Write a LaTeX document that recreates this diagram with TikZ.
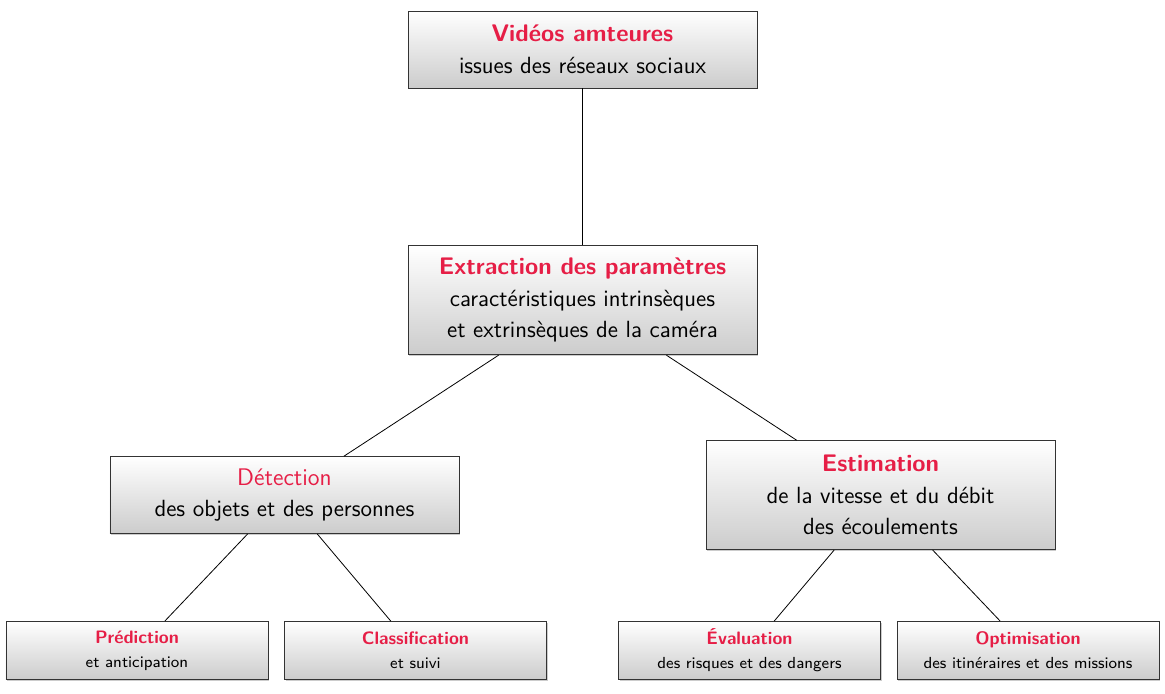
\documentclass[tikz,border=0pt]{standalone}
\usepackage{xcolor}
\usepackage{tikz}
\usetikzlibrary{positioning,shadows}

\definecolor{titlered}{RGB}{230,30,70}

\begin{document}
\begin{tikzpicture}[
        bigbox/.style={draw=black!80, rectangle, align=center, top color=white, bottom color=gray!40,
            drop shadow={shadow xshift=0.6pt, shadow yshift=-0.6pt, opacity=0.4},
            minimum width=174.5pt, inner sep=3pt, font=\sffamily\fontsize{11.7}{15.75}\selectfont},
        smallbox/.style={draw=black!80, rectangle, align=center, top color=white, bottom color=gray!40,
            drop shadow={shadow xshift=0.6pt, shadow yshift=-0.6pt, opacity=0.4},
            minimum width=131pt, minimum height=29pt, inner sep=2pt, font=\sffamily\fontsize{8}{12}\selectfont}]

        \useasboundingbox (-291.25pt,-321.75pt) rectangle (291.25pt,24.75pt);

        % Source
        \node[bigbox, minimum height=38.5pt] (videos) {{\large\bfseries\color{titlered}Vidéos amteures}\\issues des réseaux sociaux};

        % Extraction
        \node[bigbox, minimum height=54.5pt, below=78.5pt of videos] (extraction) {{\large\bfseries\color{titlered}Extraction des paramètres}\\caractéristiques intrinsèques\\et extrinsèques de la caméra};

        % Second level
        \node[bigbox, minimum height=38.5pt, below=50.5pt of extraction, xshift=-149pt] (detection) {{\large\color{titlered}Détection}\\des objets et des personnes};
        \node[bigbox, minimum height=54.5pt, below=42.5pt of extraction, xshift=149pt] (estimation) {{\large\bfseries\color{titlered}Estimation}\\de la vitesse et du débit\\des écoulements};

        % Leaves
        \node[smallbox, below=43.5pt of detection, xshift=-73.75pt] (prediction) {{\small\bfseries\color{titlered}Prédiction}\\et anticipation};
        \node[smallbox, below=43.5pt of detection, xshift=65.5pt] (classification) {{\small\bfseries\color{titlered}Classification}\\et suivi};
        \node[smallbox, below=35.5pt of estimation, xshift=-65.5pt] (evaluation) {{\small\bfseries\color{titlered}Évaluation}\\des risques et des dangers};
        \node[smallbox, below=35.5pt of estimation, xshift=73.75pt] (optimisation) {{\small\bfseries\color{titlered}Optimisation}\\des itinéraires et des missions};

        % Connections
        \draw (videos) -- (extraction);
        \draw (extraction) -- (detection);
        \draw (extraction) -- (estimation);
        \draw (detection) -- (prediction);
        \draw (detection) -- (classification);
        \draw (estimation) -- (evaluation);
        \draw (estimation) -- (optimisation);

    \end{tikzpicture}
\end{document}
